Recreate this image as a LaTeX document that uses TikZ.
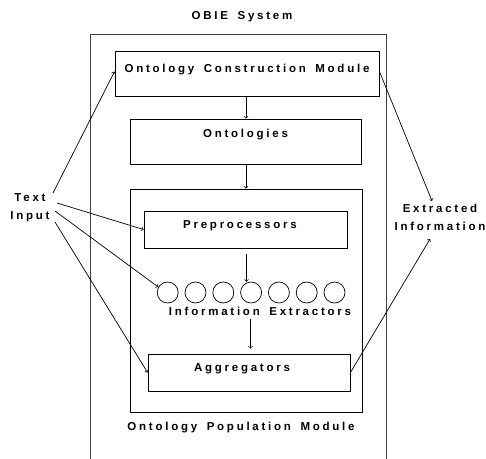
\documentclass[tikz,border=0pt]{standalone}
\usepackage{fontspec}
\newfontfamily\spaced{Liberation Sans Bold}[LetterSpace=24.0,WordSpace=1.6]
\usepackage{tikz}
\usetikzlibrary{calc}

\tikzset{
  box/.style={draw,line width=0.9pt,inner sep=0pt},
  lbl/.style={font=\spaced\fontsize{11.5}{18}\selectfont,inner sep=0pt,align=center},
  flow/.style={->,line width=0.7pt,>=to},
  unit/.style={draw,circle,line width=0.7pt,minimum size=21pt,inner sep=0pt}
}

\begin{document}
\begin{tikzpicture}[x=1pt,y=-1pt]
\useasboundingbox (0,0) rectangle (486,458);
% system frame, open at the bottom
\node[lbl] (title) at (242,17) {OBIE System};
\draw[line width=1pt,black!75] (90,460) |- (386,34) -- (386,460);

% construction side
\node[box,minimum width=264pt,minimum height=45pt] (ocm) at (247,73.5) {};
\node[lbl] (ocmtext) at (247,70) {Ontology Construction Module};
\node[box,minimum width=231pt,minimum height=45pt] (onto) at (245.5,141.5) {};
\node[lbl] (ontotext) at (245.5,135) {Ontologies};

% population module
\node[box,minimum width=232pt,minimum height=223pt] (opm) at (246,300.5) {};
\node[lbl] (opmtext) at (241,428) {Ontology Population Module};
\node[box,minimum width=203pt,minimum height=37pt] (pre) at (245.5,229.5) {};
\node[lbl] (pretext) at (240,226) {Preprocessors};
\foreach \i in {1,...,7}
  \node[unit] (c\i) at (167.7+27.8*\i-27.8,292.5) {};
\node[lbl] (ie) at (260,311) {Information Extractors};
\node[box,minimum width=202pt,minimum height=37pt] (agg) at (249,372.5) {};
\node[lbl] (aggtext) at (242,369) {Aggregators};

% inputs and outputs
\node[lbl] (txt) at (30,208) {Text\\Input};
\node[lbl] (out) at (440,217) {Extracted\\Information};
\coordinate (t1) at (53,193);
\coordinate (t2) at (57,203);
\coordinate (t3) at (55,211);
\coordinate (t4) at (55,222);
\coordinate (e1) at (432,201);
\coordinate (e2) at (430,239);

% connectors
\draw[flow] (ocm.south -| 246,0) -- (onto.north -| 246,0);
\draw[flow] (onto.south -| 246,0) -- (opm.north -| 246,0);
\draw[flow] ($(pre.south)+(1,6)$) -- ($(pre.south |- c4.north)+(1,0)$);
\draw[flow] ($(ie.south)+(-9.5,4)$) -- ($(agg.north)+(1.5,-5)$);
\draw[flow] (t1) -- ([yshift=2pt]ocm.west);
\draw[flow] (t2) -- (pre.west);
\draw[flow] (t3) -- (c1.150);
\draw[flow] (t4) -- (agg.west);
\draw[flow] ([yshift=2pt]ocm.east) -- (e1);
\draw[flow] (agg.east) -- (e2);
\end{tikzpicture}
\end{document}
